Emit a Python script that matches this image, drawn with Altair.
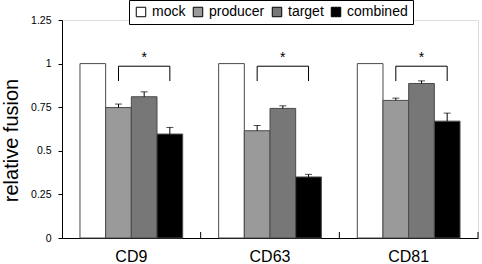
import altair as alt
import pandas as pd

categories = ["CD9", "CD63", "CD81"]
series = ["mock", "producer", "target", "combined"]
colors = ["#ffffff", "#9a9a9a", "#777777", "#000000"]
values = {
    "CD9":  [1.0, 0.748, 0.81, 0.596],
    "CD63": [1.0, 0.615, 0.743, 0.35],
    "CD81": [1.0, 0.789, 0.886, 0.67],
}
errors = {
    "CD9":  [0.0, 0.02, 0.028, 0.038],
    "CD63": [0.0, 0.03, 0.015, 0.015],
    "CD81": [0.0, 0.013, 0.015, 0.046],
}
bracket_low = 0.90
bracket_high = 0.985
star_y = 1.03
y_ticks = [0, 0.25, 0.5, 0.75, 1, 1.25]

FONT = "Liberation Sans"

rows = []
for c in categories:
    for i, s in enumerate(series):
        rows.append({"cat": c, "series": s, "value": values[c][i],
                     "err": errors[c][i], "top": values[c][i] + errors[c][i]})
df = pd.DataFrame(rows)
err_df = df[df["err"] > 0]

br_rows = []
for c in categories:
    br_rows += [
        {"cat": c, "series": "producer", "y": bracket_low, "o": 0},
        {"cat": c, "series": "producer", "y": bracket_high, "o": 1},
        {"cat": c, "series": "combined", "y": bracket_high, "o": 2},
        {"cat": c, "series": "combined", "y": bracket_low, "o": 3},
    ]
br_df = pd.DataFrame(br_rows)
star_df = pd.DataFrame({"cat": categories, "series": ["target"] * 3, "y": [star_y] * 3, "t": ["*"] * 3})
cat_df = pd.DataFrame({"cat": categories})

xscale = alt.Scale(domain=categories, paddingInner=0, paddingOuter=0)
xoff = alt.XOffset("series:N", scale=alt.Scale(domain=series, paddingInner=0, paddingOuter=0.7))
yscale = alt.Scale(domain=[0, 1.25], nice=False)

x_enc = alt.X("cat:N", scale=xscale, sort=categories,
              axis=alt.Axis(title=None, labelAngle=0, labelFontSize=16, labelFont=FONT,
                            labelColor="black", ticks=False, labelPadding=10,
                            domainColor="black"))
y_enc = alt.Y("value:Q", scale=yscale,
              axis=alt.Axis(title="relative fusion", values=y_ticks, format=".2~f",
                            labelFont=FONT, labelFontSize=10.5, labelColor="black",
                            tickColor="black", tickSize=4, labelPadding=7,
                            domainColor="black", grid=False,
                            titleFont=FONT, titleFontSize=20, titleFontWeight="normal",
                            titleColor="black", titleX=-41, titleY=120, titleAngle=-90,
                            titleAlign="center", titleBaseline="bottom"))

bars = alt.Chart(df).mark_bar(stroke="#4a4a4a", strokeWidth=1).encode(
    x=x_enc,
    xOffset=xoff,
    y=y_enc,
    fill=alt.Fill("series:N", scale=alt.Scale(domain=series, range=colors),
                  legend=alt.Legend(title=None, orient="none", legendX=67, legendY=-20,
                                    direction="horizontal", strokeColor="black",
                                    fillColor="white", padding=5, symbolType="square",
                                    symbolSize=90, symbolStrokeColor="black",
                                    symbolStrokeWidth=1, labelFont=FONT, labelFontSize=14,
                                    labelColor="black", columnPadding=5, labelOffset=4)),
)

err_rule = alt.Chart(err_df).mark_rule(color="black", strokeWidth=1).encode(
    x=alt.X("cat:N", scale=xscale, sort=categories),
    xOffset=xoff,
    y=alt.Y("value:Q", scale=yscale),
    y2="top:Q",
)
err_cap = alt.Chart(err_df).mark_tick(color="black", orient="horizontal", size=7, thickness=1).encode(
    x=alt.X("cat:N", scale=xscale, sort=categories),
    xOffset=xoff,
    y=alt.Y("top:Q", scale=yscale),
)

brackets = alt.Chart(br_df).mark_line(color="black", strokeWidth=1).encode(
    x=alt.X("cat:N", scale=xscale, sort=categories),
    xOffset=xoff,
    y=alt.Y("y:Q", scale=yscale),
    detail="cat:N",
    order="o:Q",
)

stars = alt.Chart(star_df).mark_text(font=FONT, fontSize=14, color="black", baseline="middle").encode(
    x=alt.X("cat:N", scale=xscale, sort=categories),
    xOffset=xoff,
    y=alt.Y("y:Q", scale=yscale),
    text="t:N",
)

xticks = alt.Chart(cat_df).mark_rule(color="black", strokeWidth=1).encode(
    x=alt.X("cat:N", scale=xscale, sort=categories, bandPosition=1),
    y=alt.value(218),
    y2=alt.value(212),
)

chart = alt.layer(bars, err_rule, err_cap, brackets, stars, xticks).properties(
    width=416, height=218,
    autosize=alt.AutoSizeParams(type="none"),
    padding={"left": 62, "top": 20, "right": 4, "bottom": 26},
).configure_view(stroke=None).configure(background="white")

chart.save("out.html", embed_options={"renderer": "svg", "actions": False})
